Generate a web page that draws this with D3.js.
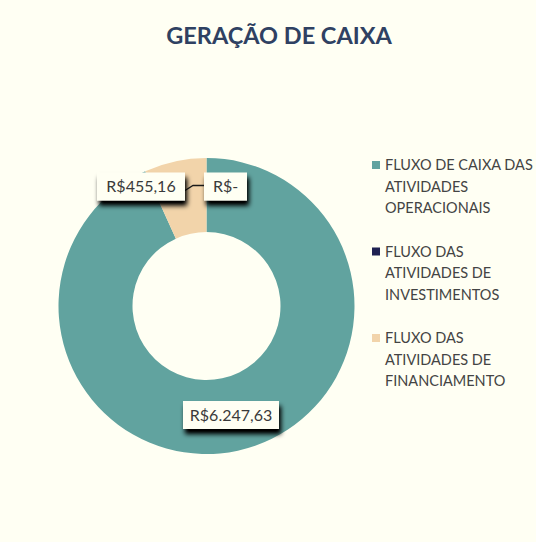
<!DOCTYPE html>
<html><head><meta charset="utf-8">
<script src="https://cdn.jsdelivr.net/npm/d3@7"></script>
<style>
html,body{margin:0;padding:0;background:#fffff3;}
</style></head>
<body>
<svg id="c" width="536" height="542"></svg>
<script>
const categories = ["FLUXO DE CAIXA DAS ATIVIDADES OPERACIONAIS","FLUXO DAS ATIVIDADES DE INVESTIMENTOS","FLUXO DAS ATIVIDADES DE FINANCIAMENTO"];
const legendLines = [["FLUXO DE CAIXA DAS","ATIVIDADES","OPERACIONAIS"],["FLUXO DAS","ATIVIDADES DE","INVESTIMENTOS"],["FLUXO DAS","ATIVIDADES DE","FINANCIAMENTO"]];
const values = [6247.63, 0, 455.16];
const labels = ["R$6.247,63", "R$-", "R$455,16"];
const colors = ["#61a39f", "#1f2152", "#f2d4aa"];

const svg = d3.select("#c");
const defs = svg.append("defs");
const f = defs.append("filter").attr("id","sh").attr("x","-20%").attr("y","-30%").attr("width","150%").attr("height","200%");
f.append("feGaussianBlur").attr("in","SourceAlpha").attr("stdDeviation",2.5);
f.append("feOffset").attr("dx",2).attr("dy",5).attr("result","o");
f.append("feComponentTransfer").append("feFuncA").attr("type","linear").attr("slope",1.1);
const m = f.append("feMerge"); m.append("feMergeNode"); m.append("feMergeNode").attr("in","SourceGraphic");

svg.append("text").attr("x",279).attr("y",44).attr("text-anchor","middle")
  .attr("font-family","Lato, 'Open Sans', sans-serif").attr("font-weight","bold").attr("font-size",23.5)
  .attr("fill","#2f4162").text("GERAÇÃO DE CAIXA");

const cx = 206.5, cy = 306, rO = 148, rI = 74;
const pie = d3.pie().sort(null).value(d=>d)(values);
const arc = d3.arc().innerRadius(rI).outerRadius(rO);
const g = svg.append("g").attr("transform",`translate(${cx},${cy})`);
g.selectAll("path").data(pie).join("path").attr("d",arc).attr("fill",(d,i)=>colors[i]);

const labelPos = [
  {x: 231, y: 415, w: 96},
  {x: 225.5, y: 186.5, w: 43},
  {x: 141, y: 186.5, w: 88}
];
svg.append("path").attr("d",`M${labelPos[2].x+labelPos[2].w/2},${labelPos[2].y+4} L${labelPos[2].x+labelPos[2].w/2+8},${labelPos[2].y-1} L${labelPos[1].x-labelPos[1].w/2},${labelPos[1].y-1}`)
  .attr("fill","none").attr("stroke","#1a1a1a").attr("stroke-width",1.3);

const lg = svg.append("g").selectAll("g").data(labels).join("g");
lg.append("rect").attr("x",(d,i)=>labelPos[i].x-labelPos[i].w/2).attr("y",(d,i)=>labelPos[i].y-14)
  .attr("width",(d,i)=>labelPos[i].w).attr("height",28).attr("fill","#fffff3").attr("filter","url(#sh)");
lg.append("text").attr("x",(d,i)=>labelPos[i].x).attr("y",(d,i)=>labelPos[i].y+5.5).attr("text-anchor","middle")
  .attr("font-family","Lato, 'Open Sans', sans-serif").attr("font-size",16).attr("fill","#3a3a3a").text(d=>d);

const leg = svg.append("g").selectAll("g").data(categories).join("g")
  .attr("transform",(d,i)=>`translate(372,${165+i*86.5})`);
leg.append("rect").attr("x",0).attr("y",-4).attr("width",8).attr("height",8).attr("fill",(d,i)=>colors[i]);
leg.each(function(d,i){
  const t = d3.select(this).append("text").attr("font-family","Lato, 'Open Sans', sans-serif")
    .attr("font-size",14.5).attr("fill","#444");
  legendLines[i].forEach((s,j)=>t.append("tspan").attr("x",13).attr("y",5+j*21.5).text(s));
});
</script>
</body></html>
